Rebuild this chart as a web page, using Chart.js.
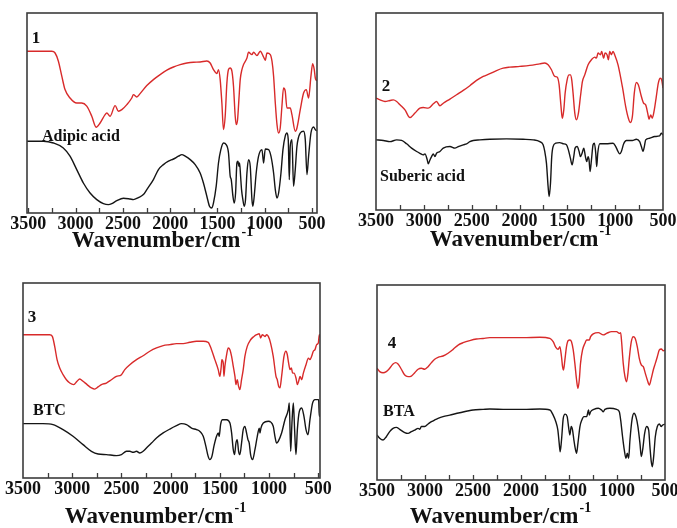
<!DOCTYPE html>
<html>
<head>
<meta charset="utf-8">
<script src="https://cdn.jsdelivr.net/npm/chart.js@4.4.1/dist/chart.umd.min.js"></script>
<style>
  html, body { margin: 0; padding: 0; background: #fff; }
  #wrap { position: relative; width: 677px; height: 528px; overflow: hidden; }
  #wrap canvas { position: absolute; }
</style>
</head>
<body>
<div id="wrap">
  <canvas id="c1"></canvas>
  <canvas id="c2"></canvas>
  <canvas id="c3"></canvas>
  <canvas id="c4"></canvas>
</div>
<script>
// ── Axis ticks (wavenumber, cm-1) ───────────────────────────
const xTickMarks  = [3500, 3250, 3000, 2750, 2500, 2250, 2000, 1750, 1500, 1250, 1000, 750, 500];
const xTickLabels = [3500, 3000, 2500, 2000, 1500, 1000, 500];

// ── Panel 1 : Cu-adipate (red) / adipic acid (black) ────────
const p1RedWn = [3514,3252,3217,3182,3146,3112,3059,2988,2935,2882,2829,2783,2741,2688,2670,2635,2582,2547,2511,2458,2406,2389,2353,2318,2247,2177,2106,2035,1965,1894,1823,1753,1683,1612,1577,1542,1506,1489,1471,1453,1436,1418,1400,1383,1365,1347,1330,1312,1301,1287,1273,1259,1241,1224,1188,1171,1135,1118,1082,1047,1012,994,976,941,923,906,888,870,853,836,818,801,783,765,730,712,677,659,624,589,560,536,511,493,476,465,450];
const p1RedT  = [80.9,80.9,80,75.9,68.4,61.7,57.5,55,55,53.4,48.4,42.9,45,49.2,50,48.4,53.7,50.9,51.7,54.2,57.5,59.2,58,59.7,63.7,66.7,69.2,71.4,73,74.2,75,75.4,75.5,76,75,71.7,69.7,71.7,66.7,55,41.7,48.4,65,71.7,72.5,70.9,63.4,48.4,44.2,46.7,56.7,66.7,71.7,74.2,77.5,80.4,79.2,80.4,78.7,80.9,78,76.4,80,79.2,75.9,68.4,55,44.2,40,42.5,53.4,62.5,60.9,52.5,52.5,49.2,40.9,42.5,51.7,60,61.7,57.5,68.4,74.7,71.7,67.5,66];
const p1BlackWn = [3514,3341,3235,3130,3059,2988,2918,2847,2776,2706,2653,2617,2564,2494,2424,2389,2336,2283,2247,2177,2124,2071,2018,1965,1912,1876,1841,1788,1735,1683,1648,1612,1584,1559,1542,1513,1489,1464,1436,1408,1383,1365,1354,1336,1322,1308,1294,1283,1273,1266,1255,1245,1231,1217,1203,1188,1171,1153,1135,1125,1111,1090,1065,1029,1012,994,959,934,906,888,870,853,828,807,783,765,751,740,730,712,695,677,659,624,589,571,553,536,511,483,465,450];
const p1BlackT  = [35.9,35.9,35,32.5,28.4,21.7,15,10,6.7,4.7,4.2,4.7,6.2,7.4,7,6.7,7.7,9.2,11.7,16.7,21.7,24.2,25.9,27,28.4,29.2,28.4,26.7,24.2,20,15,8.4,3.4,2.5,5,13.4,25,31.7,35,34.2,30,18.4,16.7,8.4,5,10,25,25.9,23.4,25,18.4,11.7,6.7,3.4,6.7,20,26.7,23.4,6.7,3.4,8.4,20,28.4,31.7,25,32,31.7,28.4,20,11.7,7.5,10,20,31.7,38.4,40,36.7,16.7,33.4,36.7,13.4,21.7,33.4,40,40.9,36.7,19.2,28.4,40,43,41.7,41];

// ── Panel 2 : Cu-suberate (red) / suberic acid (black) ──────
const p2RedWn = [3500,3458,3406,3354,3319,3284,3249,3197,3145,3093,3041,3006,2954,2901,2867,2832,2797,2727,2658,2588,2519,2449,2379,2310,2240,2171,2101,1997,1892,1788,1736,1701,1666,1631,1607,1586,1572,1558,1551,1537,1523,1502,1482,1468,1454,1440,1422,1405,1384,1363,1342,1318,1283,1248,1214,1196,1179,1154,1141,1120,1106,1085,1071,1057,1040,1022,1005,970,925,890,862,841,820,800,779,758,726,702,681,660,646,629,612,591,570,549,528,514,500];
const p2RedT  = [56.8,55.9,55.1,55.6,55.9,55.1,53.4,50.8,46.9,49.2,51.7,52,51.7,53.9,55.1,52.9,54.2,56.3,58.5,60.7,63.1,65.8,67.8,69.2,70.8,72,72.5,72.9,73.4,74.2,74.6,73.7,71.2,67.8,67.5,63.6,55.9,48.3,46.6,50.8,59.3,66.1,68.6,68.6,66.1,59.3,49.2,45.8,49.2,57.6,65.3,68.6,73.7,76.3,77.6,77.1,79.7,78.8,80.5,77.1,79.7,78.8,76.3,80.5,78.8,80.5,78.8,73.7,62.7,52.5,46.6,44.4,47.5,59.3,64.7,63.6,57.6,54.2,53.4,49.2,46.1,48.3,46.6,50.8,57.6,64.4,66.9,66.1,61.9];
const p2BlackWn = [3500,3423,3354,3284,3232,3180,3128,3075,3041,3006,2988,2964,2954,2936,2919,2901,2884,2867,2832,2797,2727,2675,2640,2588,2553,2519,2484,2414,2310,2136,1962,1857,1788,1753,1736,1718,1701,1690,1676,1663,1649,1621,1579,1544,1509,1489,1468,1450,1433,1419,1398,1377,1363,1346,1328,1311,1297,1283,1273,1262,1248,1231,1217,1203,1193,1182,1161,1092,1022,994,970,953,935,911,883,820,779,744,726,709,695,681,640,587,535,518,500];
const p2BlackT  = [35.6,35.3,34.7,35.6,35.3,33.6,31.4,29.7,28.8,28,28.5,25.4,23.4,25.4,27.1,28.5,27.1,28.8,29.7,31.4,32.2,31.4,32.2,33.1,33.6,34.7,35.3,35.6,35.9,36.1,35.9,35.6,34.7,33.1,29.7,23.7,11.9,6.8,13.6,27.1,32.2,33.9,34.2,33.6,33.1,30.5,26.3,22.9,27.1,31.4,32.2,29.7,27.1,28.8,31.4,27.1,24.6,27.1,25.4,19.5,25.4,33.1,33.9,28.8,22,28.8,33.6,33.6,33.9,32.2,29.7,28.5,29.7,33.6,35.3,35.3,35.9,34.7,32.2,29.7,32.2,35.6,36.4,37.3,37.6,39,38.1];

// ── Panel 3 : Cu-BTC (red) / BTC (black) ────────────────────
const p3RedWn = [3500,3229,3202,3178,3154,3127,3093,3059,3025,2985,2951,2924,2890,2849,2805,2771,2737,2703,2653,2602,2551,2500,2466,2415,2347,2280,2212,2144,2076,2008,1941,1873,1805,1737,1669,1619,1585,1551,1517,1500,1486,1480,1466,1459,1449,1432,1415,1398,1381,1364,1347,1337,1324,1310,1297,1280,1263,1246,1222,1188,1154,1127,1100,1086,1069,1042,1025,1008,985,958,930,917,903,890,873,849,829,815,802,788,774,761,747,727,713,700,686,669,652,625,601,585,568,551,534,517,500,490,483];
const p3RedT  = [73.5,73.5,72.6,67.5,60.7,56.4,53,50.4,48.7,47.9,49.6,50.8,49.6,47.9,46.2,45.6,46.7,47.9,48.7,50.4,52.1,53,55.6,58.1,60.7,62.7,65,66.7,67.9,68.4,68.9,68.9,69.6,70.1,70.1,69.6,65.8,60.7,55.6,52.1,57.3,60.7,59,52.1,57.3,63.2,66.7,65.8,62.4,57.3,52.1,47.9,50.4,47,45.3,50.4,55.6,62.4,67.5,70.9,72.6,73.5,74,71.8,73.5,72.6,73.5,72.6,69.2,62.4,52.1,50.4,47,46.2,52.1,62.4,65,63.2,59,55.6,56.4,53.8,53.8,51.3,47.9,49.6,52.1,50.4,53.8,58.1,61.5,60.7,62.4,65,65.8,68.4,69.2,73.5,72];
const p3BlackWn = [3500,3297,3195,3093,2992,2890,2805,2737,2653,2551,2500,2449,2415,2381,2347,2314,2280,2246,2195,2144,2076,2008,1941,1890,1839,1788,1737,1703,1669,1642,1619,1602,1581,1561,1534,1517,1507,1493,1473,1432,1398,1381,1364,1351,1337,1324,1310,1297,1280,1263,1246,1229,1215,1202,1188,1168,1144,1120,1100,1093,1083,1059,1008,958,941,924,907,873,839,805,795,781,768,754,741,727,713,693,669,646,625,605,585,558,534,510,497,490,483];
const p3BlackT  = [27.9,27.9,27.4,24.8,21.4,17.1,13.7,12.3,12,11.5,12,13.7,13.7,13.2,13.7,12.8,13.7,15.4,17.9,20.5,23.1,25.1,26.8,27.9,27.4,25.6,24.8,23.9,21.4,16.2,11.1,9.4,11.1,16.2,21.4,23.1,21.4,27.4,29.9,29.9,28.2,23.1,14.5,12,17.9,19.7,13.7,12,17.9,24.8,26.5,23.1,19.7,17.9,12,9.4,14.5,21.4,25.6,23.1,25.6,28.2,29.1,26.5,21.4,17.9,18.8,23.1,29.9,35,38.5,13.7,28.2,38.5,24.8,12,24.8,34.2,35.9,31.6,24.8,22.2,29.9,38.5,40.2,40.2,40.2,31.6,33];

// ── Panel 4 : Cu-BTA (red) / BTA (black) ────────────────────
const p4RedWn = [3500,3472,3437,3403,3368,3333,3305,3281,3246,3211,3177,3142,3107,3072,3038,3003,2968,2933,2899,2864,2812,2760,2707,2655,2603,2534,2464,2395,2325,2151,1977,1804,1699,1665,1637,1613,1595,1578,1567,1557,1543,1526,1508,1491,1474,1456,1439,1421,1407,1393,1380,1359,1334,1317,1289,1275,1248,1195,1143,1108,1056,1004,976,962,952,935,917,900,886,872,851,831,810,789,768,747,726,705,684,663,643,622,601,580,559,538,518,500];
const p4RedT  = [57.3,55.6,55,55.6,57.3,59.5,60.2,59.5,56.8,53.8,53,53.3,55,56.8,57.3,56.8,58.1,60.2,61.9,62.9,63.6,65,67,69.2,70.4,71.5,72.3,72.6,73,73,73,73.2,72.6,70.9,68,67,68.4,63.2,58.1,56.4,61.5,68.4,71.5,71.8,70.9,66.7,59.8,51.3,47,51.3,59.8,66.7,70.1,71.8,71.8,73.5,74.9,75.6,74.4,75.2,76.1,76.1,75.2,75.6,70.9,59.8,53,50.4,54.7,62.4,70.9,73.5,72.6,68.4,62.4,59,58.1,54.7,51.3,48.7,52.1,56.4,59.8,63.2,66.7,67.2,66.3,66.7];
const p4BlackWn = [3500,3472,3437,3403,3368,3333,3298,3264,3211,3177,3142,3107,3072,3055,3038,3003,2968,2933,2899,2864,2812,2742,2638,2499,2395,2325,2151,1977,1804,1699,1665,1637,1616,1602,1592,1578,1560,1540,1519,1505,1491,1477,1463,1449,1435,1421,1407,1386,1366,1345,1317,1296,1289,1275,1241,1195,1161,1143,1126,1074,1004,976,962,942,924,907,893,879,865,844,823,803,782,761,747,733,712,691,670,657,643,632,618,601,580,559,538,524,500];
const p4BlackT  = [23.1,21.4,20.5,22.2,24.8,26.5,27,26,24.3,23.9,24.8,25.6,26.5,26,27.4,27.4,28.7,29.9,30.8,31.6,32.5,33.3,34.5,35.9,36.2,36.4,36.2,36.2,36.4,35.9,33.3,29.9,25.6,18.8,14.5,20.5,31.6,33.8,32.5,27.4,23.1,27.4,25.6,20.5,16.2,13.7,18.8,27.4,30.8,32.5,32.5,35.9,33.3,35,36.2,36.8,35.9,35,36.2,36.8,36.2,35,30.8,22.2,15.4,11.1,13.7,11.1,20.5,30.8,34.2,32.5,27.4,18.8,12,15.4,23.9,27.4,25.6,17.1,9.4,6.8,12,22.2,27.4,28.7,27.4,28.2,28.7];

// ─────────────────────────────────────────────────────────────
const SERIF = "'Liberation Serif', 'Times New Roman', serif";
const RED   = '#d82a2a';
const BLACK = '#151515';

function pairs(wn, t) {
  return wn.map((x, i) => ({ x: x, y: t[i] }));
}

// frame, inward tick marks, axis title with superscript, panel texts
const framePlugin = {
  id: 'frame',
  afterDraw(chart, args, o) {
    const { ctx, chartArea: a } = chart;
    const x = chart.scales.x;
    ctx.save();
    ctx.strokeStyle = '#3c3c3c';
    ctx.lineWidth = 1.6;
    ctx.strokeRect(a.left, a.top, a.right - a.left, a.bottom - a.top);

    ctx.lineWidth = 1.3;
    xTickMarks.forEach(v => {
      if (v <= x.min || v >= x.max) return;
      const px = Math.round(x.getPixelForValue(v)) + 0.5;
      ctx.beginPath();
      ctx.moveTo(px, a.bottom);
      ctx.lineTo(px, a.bottom - 5);
      ctx.stroke();
    });

    ctx.fillStyle = '#111';
    ctx.textBaseline = 'middle';

    // axis title
    const main = 'Wavenumber/cm', sup = '-1';
    ctx.font = 'bold 23px ' + SERIF;
    const wMain = ctx.measureText(main).width;
    ctx.font = 'bold 14px ' + SERIF;
    const wSup = ctx.measureText(sup).width;
    const tx = o.titleX - o.ox - (wMain + wSup) / 2;
    const ty = o.titleY - o.oy;
    ctx.textAlign = 'left';
    ctx.font = 'bold 23px ' + SERIF;
    ctx.fillText(main, tx, ty);
    ctx.font = 'bold 14px ' + SERIF;
    ctx.fillText(sup, tx + wMain + 1, ty - 9);

    // panel number and compound name
    ctx.font = 'bold 17px ' + SERIF;
    ctx.textAlign = 'center';
    ctx.fillText(o.num, o.numX - o.ox, o.numY - o.oy);
    ctx.font = 'bold 16px ' + SERIF;
    ctx.textAlign = 'left';
    ctx.fillText(o.name, o.nameX - o.ox, o.nameY - o.oy);
    ctx.restore();
  }
};

function makePanel(id, g, red, black, txt) {
  const cv = document.getElementById(id);
  cv.width = g.w; cv.height = g.h;
  cv.style.left = g.x + 'px'; cv.style.top = g.y + 'px';

  const axisH = g.y + g.h - g.b;

  new Chart(cv, {
    type: 'line',
    data: {
      datasets: [
        { data: red,   borderColor: RED,   borderWidth: 1.4, pointRadius: 0, cubicInterpolationMode: 'monotone' },
        { data: black, borderColor: BLACK, borderWidth: 1.4, pointRadius: 0, cubicInterpolationMode: 'monotone' }
      ]
    },
    options: {
      responsive: false,
      animation: false,
      devicePixelRatio: 1,
      events: [],
      layout: { padding: { left: g.l - g.x, top: g.t - g.y, right: g.x + g.w - g.r, bottom: 0 } },
      plugins: {
        legend: { display: false },
        tooltip: { enabled: false },
        frame: Object.assign({ ox: g.x, oy: g.y }, txt)
      },
      scales: {
        x: {
          type: 'linear',
          reverse: true,
          min: g.xmin,
          max: g.xmax,
          grid: { display: false, drawTicks: false },
          border: { display: false },
          afterBuildTicks: s => { s.ticks = xTickLabels.map(v => ({ value: v })); },
          afterFit: s => { s.height = axisH; s.paddingLeft = 0; s.paddingRight = 0; },
          ticks: {
            autoSkip: false,
            maxRotation: 0,
            padding: 1,
            color: '#111',
            font: { family: SERIF, size: 18, weight: 'bold' },
            callback: v => String(v)
          }
        },
        y: { display: false, min: 0, max: 100 }
      }
    },
    plugins: [framePlugin]
  });
}

makePanel('c1',
  { x: 0, y: 0, w: 340, h: 264, l: 27, t: 13, r: 317, b: 213, xmin: 447, xmax: 3514 },
  pairs(p1RedWn, p1RedT), pairs(p1BlackWn, p1BlackT),
  { num: '1', numX: 36, numY: 39, name: 'Adipic acid', nameX: 42, nameY: 137, titleX: 162, titleY: 241 });

makePanel('c2',
  { x: 338, y: 0, w: 339, h: 264, l: 376, t: 13, r: 663, b: 210, xmin: 500, xmax: 3500 },
  pairs(p2RedWn, p2RedT), pairs(p2BlackWn, p2BlackT),
  { num: '2', numX: 386, numY: 87, name: 'Suberic acid', nameX: 380, nameY: 177, titleX: 520, titleY: 240 });

makePanel('c3',
  { x: 0, y: 264, w: 340, h: 264, l: 23, t: 283, r: 320, b: 478, xmin: 483, xmax: 3500 },
  pairs(p3RedWn, p3RedT), pairs(p3BlackWn, p3BlackT),
  { num: '3', numX: 32, numY: 318, name: 'BTC', nameX: 33, nameY: 411, titleX: 155, titleY: 517 });

makePanel('c4',
  { x: 338, y: 264, w: 339, h: 264, l: 377, t: 285, r: 665, b: 480, xmin: 500, xmax: 3500 },
  pairs(p4RedWn, p4RedT), pairs(p4BlackWn, p4BlackT),
  { num: '4', numX: 392, numY: 344, name: 'BTA', nameX: 383, nameY: 412, titleX: 500, titleY: 517 });
</script>
</body>
</html>
